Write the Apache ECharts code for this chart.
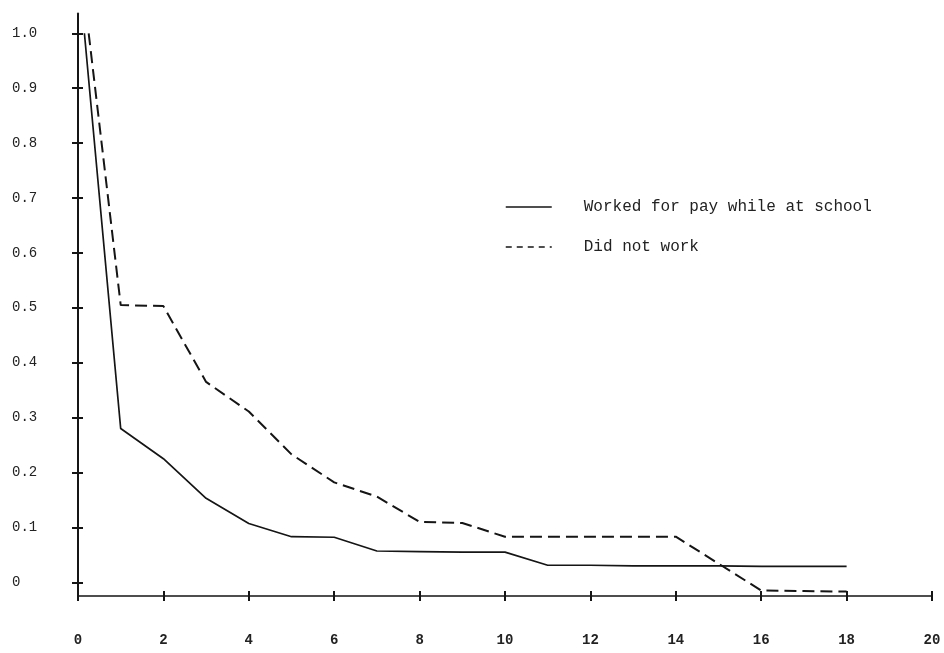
<!DOCTYPE html>
<html>
<head>
<meta charset="utf-8">
<script src="https://cdn.jsdelivr.net/npm/echarts@6.0.0/dist/echarts.min.js"></script>
<style>
  html, body { margin: 0; padding: 0; background: #fff; }
  #chart { width: 944px; height: 653px; }
</style>
</head>
<body>
<div id="chart"></div>
<script>
// values
const seriesNames = ['Worked for pay while at school', 'Did not work'];

const workedX = [0.15, 1, 2, 3, 4, 5, 6, 7, 8, 9, 10, 11, 12, 13, 14, 15, 16, 17, 18];
const workedY = [1.0, 0.28, 0.225, 0.153, 0.107, 0.083, 0.082, 0.057, 0.056, 0.055, 0.055,
  0.031, 0.031, 0.030, 0.030, 0.030, 0.029, 0.029, 0.029];

const notWorkedX = [0.25, 1, 2, 3, 4, 5, 6, 7, 8, 9, 10, 11, 12, 13, 14, 15, 16, 17, 18];
const notWorkedY = [1.0, 0.505, 0.503, 0.365, 0.311, 0.233, 0.182, 0.156, 0.11, 0.108, 0.083,
  0.083, 0.083, 0.083, 0.083, 0.034, -0.015, -0.016, -0.017];

const yTicks = [0, 0.1, 0.2, 0.3, 0.4, 0.5, 0.6, 0.7, 0.8, 0.9, 1.0];
const yTickLabels = ['0', '0.1', '0.2', '0.3', '0.4', '0.5', '0.6', '0.7', '0.8', '0.9', '1.0'];

const ink = '#151515';
const mono = '"Liberation Mono", "DejaVu Sans Mono", monospace';

const chart = echarts.init(document.getElementById('chart'));

function pairs(xs, ys) {
  return xs.map((x, i) => [x, ys[i]]);
}

const yCommon = {
  type: 'value',
  min: -0.025,
  max: 1.036,
  position: 'left',
  splitLine: { show: false }
};

const xCommon = {
  type: 'value',
  min: 0,
  max: 20,
  interval: 2,
  position: 'bottom',
  splitLine: { show: false }
};

const option = {
  backgroundColor: '#fff',
  animation: false,
  grid: { left: 78, right: 12, top: 13.5, bottom: 57 },
  legend: {
    orient: 'vertical',
    left: 500,
    top: 194,
    itemWidth: 46,
    itemHeight: 14,
    itemGap: 24,
    itemStyle: { opacity: 0 },
    textStyle: {
      fontFamily: mono,
      fontSize: 16,
      color: '#222',
      padding: [0, 0, 0, 27]
    },
    data: [
      { name: seriesNames[0], itemStyle: { opacity: 0 }, lineStyle: { color: ink, width: 1.5, type: 'solid' } },
      { name: seriesNames[1], itemStyle: { opacity: 0 }, lineStyle: { color: ink, width: 1.5, type: [6, 5] } }
    ]
  },
  xAxis: [
    Object.assign({}, xCommon, {
      axisLine: { onZero: false, lineStyle: { color: ink, width: 1.5 } },
      axisTick: { show: true, inside: false, length: 5, lineStyle: { color: ink, width: 2 } },
      axisLabel: {
        margin: 37,
        fontFamily: mono,
        fontWeight: 'bold',
        fontSize: 14,
        color: '#222',
        showMinLabel: true,
        showMaxLabel: true
      }
    }),
    Object.assign({}, xCommon, {
      axisLine: { show: false, onZero: false },
      axisTick: { show: true, inside: true, length: 5, lineStyle: { color: ink, width: 2 } },
      axisLabel: { show: false }
    })
  ],
  yAxis: [
    Object.assign({}, yCommon, {
      axisLine: { show: true, onZero: false, lineStyle: { color: ink, width: 2 } },
      axisTick: { show: true, inside: false, length: 6, customValues: yTicks, lineStyle: { color: ink, width: 2 } },
      axisLabel: {
        customValues: yTicks,
        formatter: (v) => yTickLabels[yTicks.findIndex(t => Math.abs(t - v) < 1e-6)] ?? '',
        align: 'left',
        margin: 66,
        fontFamily: mono,
        fontSize: 14,
        color: '#222'
      }
    }),
    Object.assign({}, yCommon, {
      axisLine: { show: false, onZero: false },
      axisTick: { show: true, inside: true, length: 5, customValues: yTicks, lineStyle: { color: ink, width: 2 } },
      axisLabel: { show: false }
    })
  ],
  series: [
    {
      name: seriesNames[0],
      type: 'line',
      data: pairs(workedX, workedY),
      symbol: 'none',
      color: ink,
      lineStyle: { color: ink, width: 1.7, type: 'solid' }
    },
    {
      name: seriesNames[1],
      type: 'line',
      data: pairs(notWorkedX, notWorkedY),
      symbol: 'none',
      color: ink,
      lineStyle: { color: ink, width: 2, type: [12, 6] }
    }
  ]
};

chart.setOption(option);
</script>
</body>
</html>
